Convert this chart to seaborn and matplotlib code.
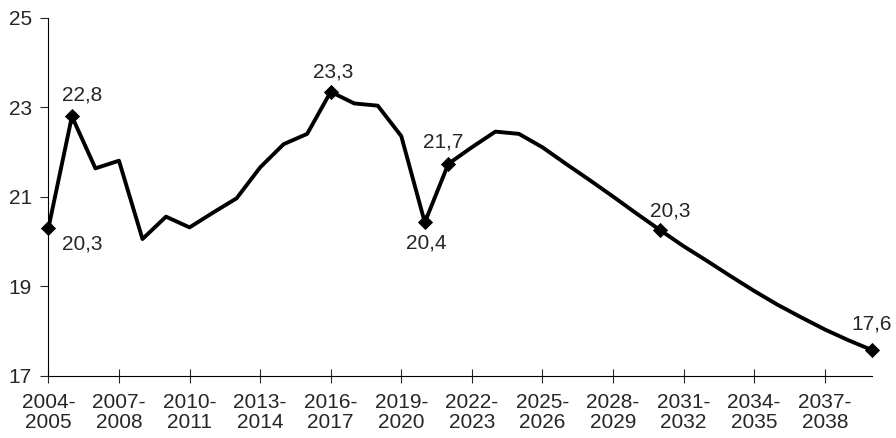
import matplotlib
matplotlib.use("Agg")
import matplotlib.pyplot as plt
import seaborn as sns
import pandas as pd

# School years 2004-2005 .. 2039-2040
years = [f"{y}-{y + 1}" for y in range(2004, 2040)]
values = [20.3, 22.8, 21.64, 21.81, 20.06, 20.56, 20.32, 20.65, 20.97, 21.66,
          22.18, 22.41, 23.35, 23.09, 23.04, 22.36, 20.43, 21.74, 22.11, 22.46,
          22.41, 22.11, 21.74, 21.38, 21.01, 20.63, 20.26, 19.90, 19.57, 19.23,
          18.90, 18.59, 18.31, 18.04, 17.80, 17.58]
# points that carry a marker and a label
marked = [0, 1, 12, 16, 17, 26, 35]
marked_text = ["20,3", "22,8", "23,3", "20,4", "21,7", "20,3", "17,6"]
# label offsets in points from the marker
label_dx = [24.5, 7, 2, 1, -3.6, 7, 0]
label_dy = [-11.5, 15.5, 14, -15, 15.5, 14, 19]
tick_labels = [f"{y}-\n{y + 1}" for y in range(2004, 2040, 3)]

df = pd.DataFrame({"idx": range(len(years)), "year": years, "value": values})
pts = df.iloc[marked]

sns.set_style("white")
plt.rcParams["font.family"] = ["Liberation Sans", "DejaVu Sans"]

fig = plt.figure(figsize=(8.96, 4.38), dpi=100)
ax = fig.add_axes([0.054, 0.1416, 0.919, 0.8174])

sns.lineplot(data=df, x="idx", y="value", color="black", linewidth=2.8, ax=ax)
sns.scatterplot(data=pts, x="idx", y="value", color="black", marker="D",
                s=60, edgecolor="black", linewidth=0, ax=ax, zorder=3,
                clip_on=False)

for i, txt, dx, dy in zip(marked, marked_text, label_dx, label_dy):
    ax.annotate(txt, (i, values[i]), xytext=(dx, dy),
                textcoords="offset points", ha="center", va="center",
                fontsize=15)

ax.set_xlim(0, len(years) - 1)
ax.set_ylim(17, 25)
ax.set_yticks([17, 19, 21, 23, 25])
ax.set_xticks(range(0, len(years), 3))
ax.set_xticklabels(tick_labels, fontsize=15, linespacing=1.1)
ax.tick_params(axis="y", labelsize=15, direction="out", length=6, width=0.8,
               left=True, pad=6)
ax.tick_params(axis="x", direction="inout", length=10, width=0.8,
               bottom=True, pad=7)
ax.set_xlabel("")
ax.set_ylabel("")
sns.despine(ax=ax)
for s in ["left", "bottom"]:
    ax.spines[s].set_color("black")
    ax.spines[s].set_linewidth(0.8)

fig.savefig("out.png", dpi=100)
